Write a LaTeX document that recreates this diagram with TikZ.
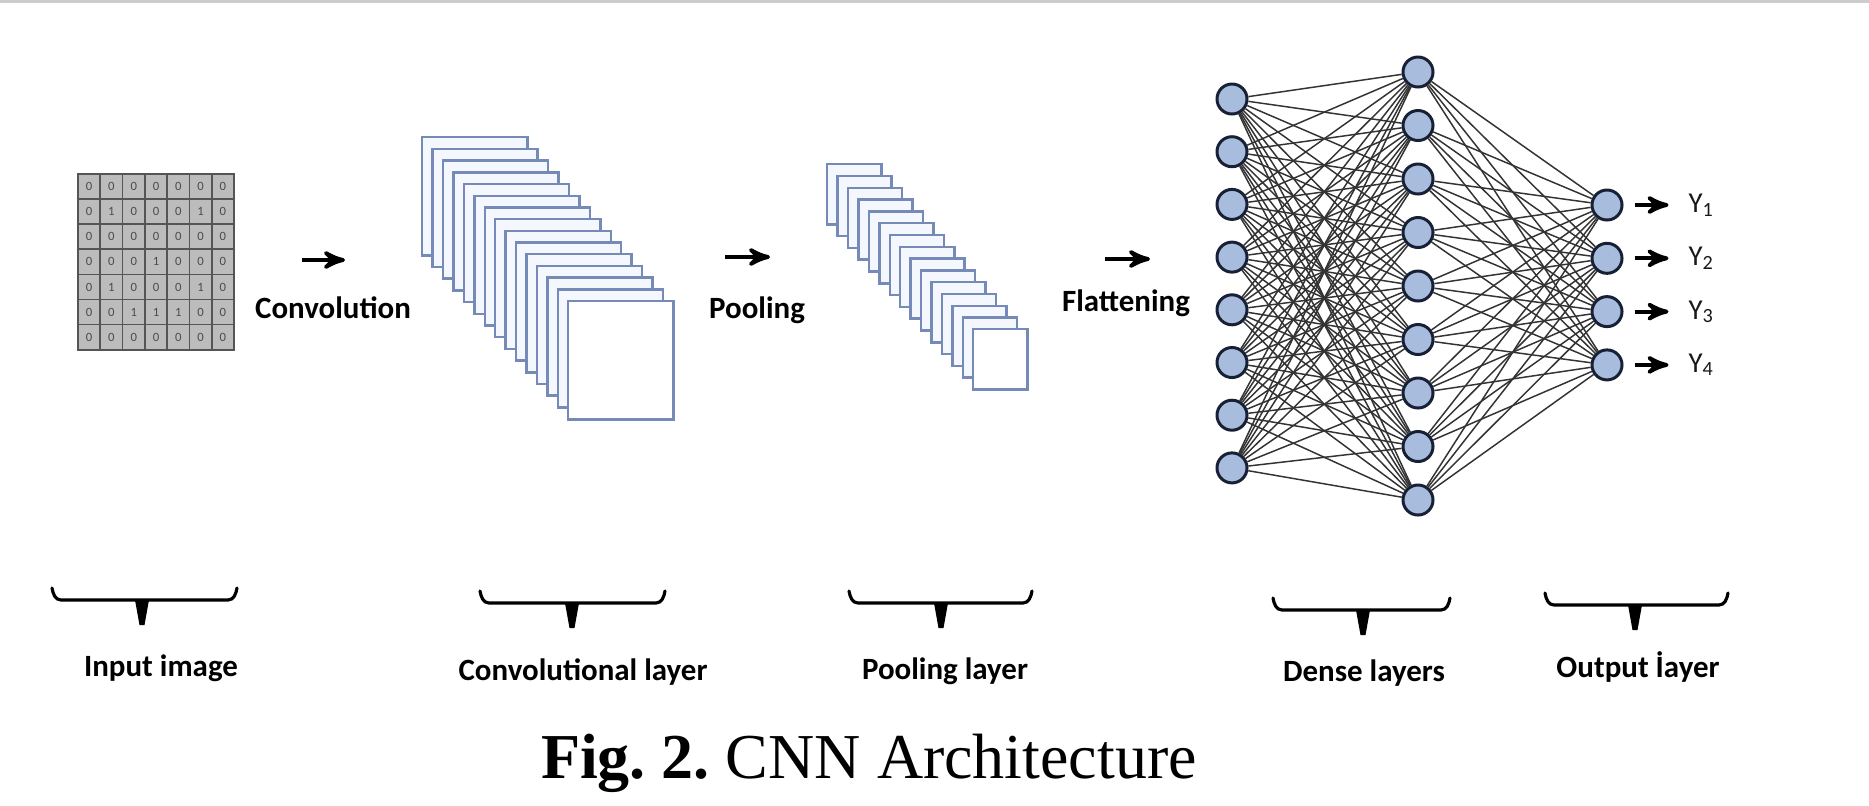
\documentclass[tikz,border=0pt]{standalone}
\usepackage{fontspec}
\setmainfont{Carlito}
\newfontfamily\capfont{Liberation Serif}
\usepackage{tikz}
\usetikzlibrary{arrows,positioning}

\definecolor{mapedge}{RGB}{118,138,184}
\definecolor{mapfill}{RGB}{244,247,253}
\definecolor{neuronfill}{RGB}{168,189,221}
\definecolor{neuronedge}{RGB}{24,32,54}
\definecolor{pixfill}{RGB}{188,188,188}
\definecolor{pixedge}{RGB}{85,85,85}

\begin{document}
\frenchspacing
\begin{tikzpicture}[x=0.01cm,y=-0.01cm,>=stealth',semithick,
                    font=\fontsize{8.8}{10}\selectfont\bfseries]
  \tikzstyle{pixel}=[rectangle,draw=pixedge,fill=pixfill,line width=0.5pt,
                     minimum width=0.223cm,minimum height=0.251cm,inner sep=0pt,
                     text=black!70,font=\fontsize{3.6}{4}\selectfont]
  \tikzstyle{convmap}=[rectangle,draw=mapedge,fill=mapfill,line width=0.7pt,
                       anchor=north west,minimum width=1.05cm,minimum height=1.18cm]
  \tikzstyle{poolmap}=[convmap,minimum width=0.54cm,minimum height=0.6cm]
  \tikzstyle{neuron}=[circle,draw=neuronedge,fill=neuronfill,line width=0.85pt,
                      minimum size=0.3cm,inner sep=0pt]
  \tikzstyle{weight}=[black!80,line width=0.42pt]
  \tikzstyle{flowarrow}=[->,line width=1.1pt]
  \tikzstyle{brace}=[line width=0.9pt,line cap=round]
  \tikzstyle{yout}=[inner sep=0pt,text=black!90,font=\fontsize{8.2}{9}\selectfont]

  \useasboundingbox (0,0) rectangle (1869,805);
  \draw[gray!40,line width=1pt] (0,1) -- (1869,1);

  \foreach \row [count=\r] in {{0,0,0,0,0,0,0},{0,1,0,0,0,1,0},{0,0,0,0,0,0,0},
      {0,0,0,1,0,0,0},{0,1,0,0,0,1,0},{0,0,1,1,1,0,0},{0,0,0,0,0,0,0}}
    \foreach \v [count=\c] in \row
      \node[pixel] (px-\r-\c) at ({78+22.3*(\c-0.5)},{174+25.1*(\r-0.5)}) {\v};

  \coordinate (cv-a) at (302,260);
  \coordinate (cv-b) at (345,260);
  \draw[flowarrow] (cv-a) -- (cv-b);
  \node (convolution) at (333,308) {Convolution};

  \foreach \i in {0,...,13}
    \node[convmap] (conv\i) at ({421+10.43*\i},{136+11.7*\i}) {};
  \node[convmap,fill=white] (conv14) at (567,300) {};

  \coordinate (pl-a) at (725,257);
  \coordinate (pl-b) at (770,257);
  \draw[flowarrow] (pl-a) -- (pl-b);
  \node (pooling) at (757,310) {Pooling};

  \foreach \i in {0,...,13}
    \node[poolmap] (pool\i) at ({826+10.43*\i},{163+11.8*\i}) {};
  \node[poolmap,fill=white] (pool14) at (972,328) {};

  \coordinate (fl-a) at (1105,259);
  \coordinate (fl-b) at (1150,259);
  \draw[flowarrow] (fl-a) -- (fl-b);
  \node (flattening) at (1126,303) {Flattening};

  \foreach \i in {1,...,8}
    \node[neuron] (h\i) at (1232,{99+52.7*(\i-1)}) {};
  \foreach \j in {1,...,9}
    \node[neuron] (d\j) at (1418,{72+53.5*(\j-1)}) {};
  \foreach \k in {1,...,4}
    \node[neuron] (o\k) at (1607,{205+53.3*(\k-1)}) {};

  \foreach \i in {1,...,8}
    \foreach \j in {1,...,9}
      \path[weight] (h\i) edge (d\j);
  \foreach \j in {1,...,9}
    \foreach \k in {1,...,4}
      \path[weight] (d\j) edge (o\k);

  \foreach \k in {1,...,4}
  {
    \node[yout,anchor=west] (y\k) [right=0.64cm of o\k] {Y\textsubscript{\k}};
    \draw[flowarrow,shorten <=0.11cm,shorten >=0.19cm] (o\k) -- (y\k);
  }

  \foreach \xa/\xb/\xm/\yb in {52/237/142/600,480/665/572/603,849/1032/941/603,
                               1273/1450/1363/610,1545/1728/1635/605}
  {
    \draw[brace] (\xa,{\yb-12}) to[out=-80,in=180] ({\xa+9},\yb)
                 -- ({\xb-9},\yb) to[out=0,in=-100] (\xb,{\yb-12});
    \fill ({\xm-7},\yb) -- ({\xm+7},\yb) -- ({\xm+2.5},{\yb+25})
          -- ({\xm-2.5},{\yb+25}) -- cycle;
  }

  \node (lbl-input) at (161,668) {Input image};
  \node (lbl-conv)  at (583,672) {Convolutional layer};
  \node (lbl-pool)  at (945,671) {Pooling layer};
  \node (lbl-dense) at (1364,673) {Dense layers};
  \node (lbl-out)   at (1638,667) {Output İayer};

  \node[anchor=base west,inner sep=0pt,font=\capfont\fontsize{18.2}{20}\selectfont]
    (caption) at (540,778) {\textbf{Fig. 2.} CNN Architecture};
\end{tikzpicture}
\end{document}
